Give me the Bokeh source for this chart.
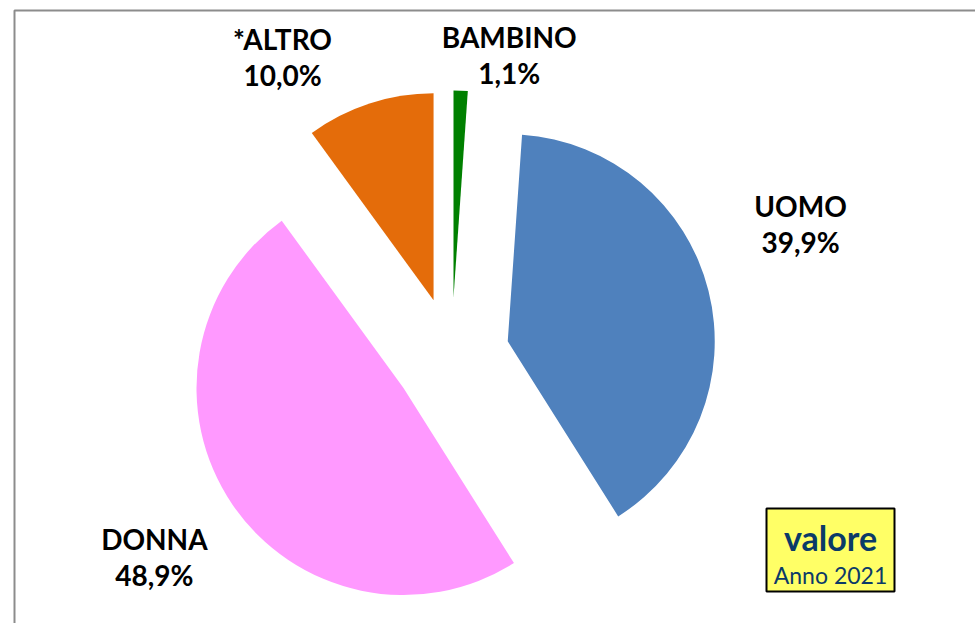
import math
from bokeh.plotting import figure
from bokeh.models import Range1d
from bokeh.core.properties import value
from bokeh.embed import file_html
from bokeh.resources import INLINE

# ---- data ----
categories = ["BAMBINO", "UOMO", "DONNA", "*ALTRO"]
shares = [1.1, 39.9, 48.9, 10.0]
colors = ["#008000", "#4F81BD", "#FF99FF", "#E46C0A"]
box_title = "valore"
box_subtitle = "Anno 2021"

# ---- layout ----
W, H = 975, 623
SCREEN_H = 623
CX, CY = 451, SCREEN_H - 355      # pie centre (y measured upward)
R = 207                           # radius
EXPLODE = 58                      # explosion distance
label_nudge_deg = [8.9, -6.5, 0.0, -11.5]
label_radius = [306, 373, 359, 343]
LINE_GAP = 36
FONT = "Lato"

p = figure(width=W, height=H, x_range=Range1d(0, W),
           y_range=Range1d(SCREEN_H - H, SCREEN_H),
           output_backend="svg", toolbar_location=None,
           x_axis_type=None, y_axis_type=None, min_border=0,
           outline_line_color=None, background_fill_color="white",
           border_fill_color="white")
p.grid.visible = False

# chart frame
p.quad(left=14, right=3000, top=SCREEN_H - 10, bottom=-3000,
       fill_color=None, line_color="#8C8C8C", line_width=2)

total = sum(shares)
cum = 0.0
for i, (cat, val, col) in enumerate(zip(categories, shares, colors)):
    a1 = cum / total * 360.0           # clockwise from top
    cum += val
    a2 = cum / total * 360.0
    mid = math.radians((a1 + a2) / 2)
    cx = CX + EXPLODE * math.sin(mid)
    cy = CY + EXPLODE * math.cos(mid)
    start = math.radians(90 - a2)
    end = math.radians(90 - a1)
    p.wedge(x=[cx], y=[cy], radius=R, start_angle=[start], end_angle=[end],
            fill_color=col, line_color=None)

    la = math.radians((a1 + a2) / 2 + label_nudge_deg[i])
    lx = CX + label_radius[i] * math.sin(la)
    ly = CY + label_radius[i] * math.cos(la)
    pct = f"{val:.1f}%".replace(".", ",")
    p.text(x=[lx], y=[ly + LINE_GAP / 2], text=[cat], text_font=value(FONT),
           text_font_style="bold", text_font_size="28px", text_color="black",
           text_align="center", text_baseline="middle")
    p.text(x=[lx], y=[ly - LINE_GAP / 2], text=[pct], text_font=value(FONT),
           text_font_style="bold", text_font_size="28px", text_color="black",
           text_align="center", text_baseline="middle")

# yellow note box
p.quad(left=766, right=894, top=SCREEN_H - 508, bottom=SCREEN_H - 591,
       fill_color="#FFFF66", line_color="black", line_width=2)
p.text(x=[830], y=[SCREEN_H - 537], text=[box_title], text_font=value(FONT),
       text_font_style="bold", text_font_size="34px", text_color="#0B3A68",
       text_align="center", text_baseline="middle")
p.text(x=[830], y=[SCREEN_H - 574], text=[box_subtitle], text_font=value(FONT),
       text_font_size="23px", text_color="#0B3A68",
       text_align="center", text_baseline="middle")

open("out.html", "w").write(file_html(p, INLINE))
